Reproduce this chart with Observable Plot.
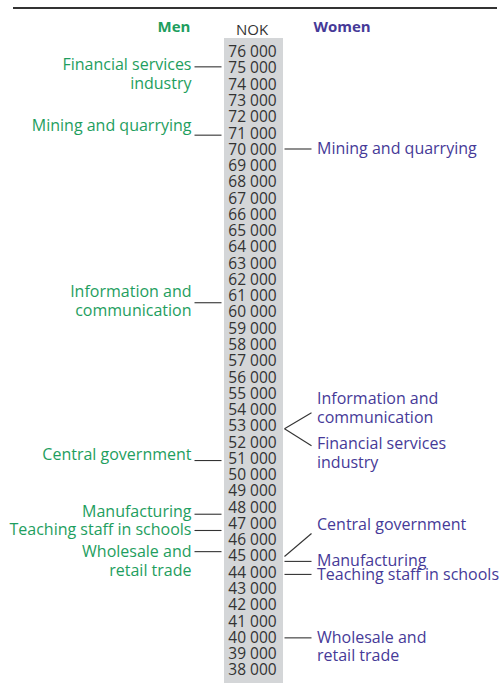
<!DOCTYPE html>
<html>
<head>
<meta charset="utf-8">
<script src="https://cdn.jsdelivr.net/npm/d3@7"></script>
<script src="https://cdn.jsdelivr.net/npm/@observablehq/plot@0.6"></script>
<style>
  html, body { margin: 0; padding: 0; background: #fff; }
  #wrap { position: relative; width: 500px; height: 683px; overflow: hidden; font-family: "Open Sans", sans-serif; }
  #rule { position: absolute; left: 13px; width: 484px; top: 7px; height: 0; border-top: 2px solid #333; }
  .hdr { position: absolute; top: 16px; font-size: 15px; line-height: 20px; transform: translateX(-50%); white-space: nowrap; }
  #men { left: 174px; color: #1e9e5e; font-weight: bold; }
  #nok { left: 252px; top: 19px; color: #333; }
  #women { left: 342px; color: #463a98; font-weight: bold; }
  svg { position: absolute; left: 0; top: 0; }
</style>
</head>
<body>
<div id="wrap">
  <div id="rule"></div>
  <div class="hdr" id="men">Men</div>
  <div class="hdr" id="nok">NOK</div>
  <div class="hdr" id="women">Women</div>
</div>
<script>
// ---- data ----
const ticks = [76000, 75000, 74000, 73000, 72000, 71000, 70000, 69000, 68000, 67000,
  66000, 65000, 64000, 63000, 62000, 61000, 60000, 59000, 58000, 57000, 56000, 55000,
  54000, 53000, 52000, 51000, 50000, 49000, 48000, 47000, 46000, 45000, 44000, 43000,
  42000, 41000, 40000, 39000, 38000];
const industries = [
  "Financial services\nindustry",
  "Mining and quarrying",
  "Information and\ncommunication",
  "Central government",
  "Manufacturing",
  "Teaching staff in schools",
  "Wholesale and\nretail trade"
];
const menPay   = [75100, 70900, 60600, 50900, 47600, 46600, 45300];
const womenPay = [52850, 70050, 52850, 45000, 44700, 43900, 40000];

// ---- layout (pixel offsets of labels relative to their value) ----
const menLabelDy   = [-3, -10, -12, -7, -3, -2, -1];
const womenLabelDy = [16, 0, -29, -31, 0, 1, 0];
const womenLinkDy  = [17, 0, -16, -23, 0, 0, 0];

const W = 500, H = 683, mTop = 51.7, mBottom = 13.1;
const yDomain = [d3.min(ticks), d3.max(ticks)];
const k = (H - mTop - mBottom) / (yDomain[1] - yDomain[0]);
const shift = (v, px) => v - px / k;

const rows = industries.map((name, i) => ({
  name, men: menPay[i], women: womenPay[i],
  menLabelY: shift(menPay[i], menLabelDy[i]),
  womenLabelY: shift(womenPay[i], womenLabelDy[i]),
  womenLinkY: shift(womenPay[i], womenLinkDy[i])
}));

const fmt = v => String(v).replace(/\B(?=(\d{3})+(?!\d))/g, " ");
const green = "#1e9e5e", purple = "#463a98", ink = "#333";
const fs = 16;
const labelDy = -0.39 * fs - 2.5;

const chart = Plot.plot({
  width: W, height: H,
  marginTop: mTop, marginBottom: mBottom, marginLeft: 0, marginRight: 0,
  x: {domain: [0, W], axis: null},
  y: {domain: yDomain, axis: null},
  style: {fontFamily: "Open Sans", fontSize: fs + "px", background: "transparent", overflow: "visible"},
  marks: [
    Plot.rect([0], {x1: 224, x2: 283, y1: shift(yDomain[0], 20), y2: shift(yDomain[1], -13.7), fill: "#d4d6d8"}),
    Plot.text(ticks, {x: 252, y: d => d, text: fmt, fill: ink, fontSize: 15.5, textAnchor: "middle"}),
    // men
    Plot.link(rows, {x1: 194, x2: 221, y1: "men", y2: "men", stroke: ink, strokeWidth: 1.1}),
    Plot.text(rows, {x: 191, y: "menLabelY", text: "name", fill: green, textAnchor: "end",
      lineAnchor: "top", dy: labelDy + 1, lineHeight: 1.22}),
    // women
    Plot.link(rows, {x1: 284, x2: 311, y1: "women", y2: "womenLinkY", stroke: ink, strokeWidth: 1.1}),
    Plot.text(rows, {x: 316.5, y: "womenLabelY", text: "name", fill: purple, textAnchor: "start",
      lineAnchor: "top", dy: labelDy, lineHeight: 1.18})
  ]
});
document.getElementById("wrap").prepend(chart);
</script>
</body>
</html>
